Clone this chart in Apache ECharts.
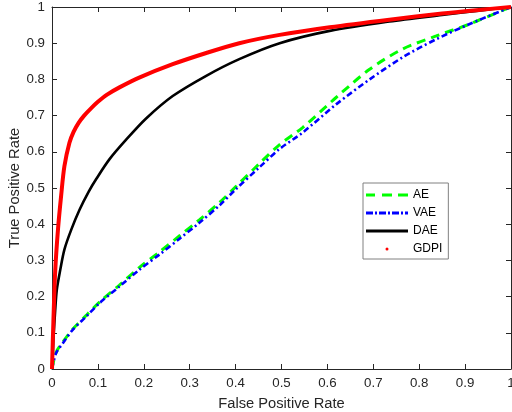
<!DOCTYPE html>
<html>
<head>
<meta charset="utf-8">
<script src="https://cdn.jsdelivr.net/npm/echarts@6/dist/echarts.min.js"></script>
<style>html,body{margin:0;padding:0;background:#fff;}#c{width:512px;height:412px;}</style>
</head>
<body>
<div id="c"></div>
<script>
// ROC curve samples (FPR, TPR)
const aeFpr   = [0, 0.009, 0.024, 0.045, 0.0745, 0.1035, 0.147, 0.19, 0.234, 0.278, 0.321, 0.365, 0.40, 0.45, 0.496, 0.546, 0.619, 0.692, 0.764, 0.837, 0.91, 0.98, 1];
const aeTpr   = [0, 0.046, 0.075, 0.11, 0.148, 0.185, 0.232, 0.28, 0.323, 0.368, 0.412, 0.46, 0.503, 0.565, 0.62, 0.667, 0.75, 0.828, 0.884, 0.92, 0.953, 0.99, 1];
const vaeFpr  = [0, 0.009, 0.024, 0.045, 0.0745, 0.1035, 0.147, 0.19, 0.234, 0.278, 0.321, 0.365, 0.40, 0.45, 0.496, 0.546, 0.619, 0.692, 0.764, 0.837, 0.91, 1];
const vaeTpr  = [0, 0.044, 0.072, 0.108, 0.145, 0.182, 0.228, 0.274, 0.316, 0.36, 0.404, 0.452, 0.496, 0.555, 0.608, 0.653, 0.731, 0.80, 0.861, 0.911, 0.953, 1];
const daeFpr  = [0, 0.003, 0.007, 0.0105, 0.018, 0.027, 0.042, 0.06, 0.08, 0.096, 0.125, 0.162, 0.205, 0.263, 0.336, 0.408, 0.496, 0.605, 0.735, 0.85, 0.93, 1];
const daeTpr  = [0, 0.08, 0.163, 0.219, 0.274, 0.33, 0.385, 0.44, 0.49, 0.524, 0.579, 0.634, 0.692, 0.754, 0.81, 0.856, 0.9, 0.934, 0.96, 0.978, 0.99, 1];
const gdpiFpr = [0, 0.003, 0.007, 0.013, 0.02, 0.027, 0.038, 0.047, 0.058, 0.07, 0.085, 0.1, 0.12, 0.147, 0.19, 0.263, 0.336, 0.408, 0.496, 0.605, 0.735, 0.85, 0.93, 1];
const gdpiTpr = [0, 0.13, 0.27, 0.385, 0.48, 0.56, 0.625, 0.655, 0.68, 0.7, 0.72, 0.738, 0.758, 0.778, 0.805, 0.842, 0.873, 0.9, 0.923, 0.944, 0.965, 0.982, 0.992, 1];
const tickValues = [0, 0.1, 0.2, 0.3, 0.4, 0.5, 0.6, 0.7, 0.8, 0.9, 1];
const seriesNames = ['AE', 'VAE', 'DAE', 'GDPI'];

const pairs = (xs, ys) => xs.map((x, i) => [x, ys[i]]);
const fmt = v => (Math.abs(v) < 1e-9 ? '0' : Math.abs(v - 1) < 1e-9 ? '1' : v.toFixed(1));
const axisColor = '#262626';
const font = '"Liberation Sans", Arial, sans-serif';

const baseAxis = {
  type: 'value', min: 0, max: 1, interval: 0.1,
  splitLine: { show: false },
  axisLine: { show: true, onZero: false, lineStyle: { color: axisColor, width: 1 } },
  axisTick: { show: true, inside: true, length: 5, lineStyle: { color: axisColor } }
};

const chart = echarts.init(document.getElementById('c'), null, { renderer: 'canvas' });
chart.setOption({
  animation: false,
  backgroundColor: '#ffffff',
  grid: { left: 52, right: 1, top: 7, bottom: 43, containLabel: false, outerBoundsMode: 'none' },
  xAxis: [
    Object.assign({}, baseAxis, {
      position: 'bottom',
      name: 'False Positive Rate', nameLocation: 'middle', nameGap: 27, nameMoveOverlap: false,
      nameTextStyle: { fontFamily: font, fontSize: 14.7, color: axisColor },
      axisLabel: { margin: 8, fontFamily: font, fontSize: 13.3, color: axisColor, formatter: fmt }
    }),
    Object.assign({}, baseAxis, { position: 'top', axisLabel: { show: false } })
  ],
  yAxis: [
    Object.assign({}, baseAxis, {
      position: 'left',
      name: 'True Positive Rate', nameLocation: 'middle', nameGap: 30, nameRotate: 90, nameMoveOverlap: false,
      nameTextStyle: { fontFamily: font, fontSize: 14.7, color: axisColor },
      axisLabel: { margin: 7, fontFamily: font, fontSize: 13.3, color: axisColor, formatter: fmt }
    }),
    Object.assign({}, baseAxis, { position: 'right', axisLabel: { show: false } })
  ],
  legend: {
    orient: 'vertical', left: 363, top: 183,
    padding: [5, 6, 3, 3], itemGap: 4,
    itemWidth: 42, itemHeight: 3,
    backgroundColor: '#ffffff', borderColor: '#808080', borderWidth: 1, borderRadius: 0,
    selectedMode: false,
    itemStyle: { borderWidth: 0 },
    textStyle: { fontFamily: font, fontSize: 12, color: '#000', lineHeight: 14 },
    data: [
      { name: seriesNames[0], icon: 'path://M0,0h9v3h-9zM16,0h10v3h-10zM32,0h10v3h-10z' },
      { name: seriesNames[1], icon: 'path://M0,0h7v3h-7zM9,0h2v3h-2zM13,0h7v3h-7zM22,0h2v3h-2zM26,0h7v3h-7zM35,0h2v3h-2zM39,0h3v3h-3z' },
      { name: seriesNames[2], icon: 'rect' },
      { name: seriesNames[3], icon: 'circle' }
    ]
  },
  series: [
    { name: seriesNames[0], type: 'line', data: pairs(aeFpr, aeTpr), showSymbol: false, symbol: 'none',
      smooth: 0.3, color: '#00ff00',
      lineStyle: { color: '#00ff00', width: 3, type: [9, 6] }, z: 2 },
    { name: seriesNames[1], type: 'line', data: pairs(vaeFpr, vaeTpr), showSymbol: false, symbol: 'none',
      smooth: 0.3, color: '#0000ff',
      lineStyle: { color: '#0000ff', width: 2.6, type: [6, 3, 2, 3] }, z: 3 },
    { name: seriesNames[2], type: 'line', data: pairs(daeFpr, daeTpr), showSymbol: false, symbol: 'none',
      smooth: 0.3, color: '#000000',
      lineStyle: { color: '#000000', width: 2.6 }, z: 4 },
    { name: seriesNames[3], type: 'line', data: pairs(gdpiFpr, gdpiTpr), showSymbol: false, symbol: 'none',
      smooth: 0.3, color: '#ff0000',
      lineStyle: { color: '#ff0000', width: 4 }, z: 5 }
  ]
});
</script>
</body>
</html>
